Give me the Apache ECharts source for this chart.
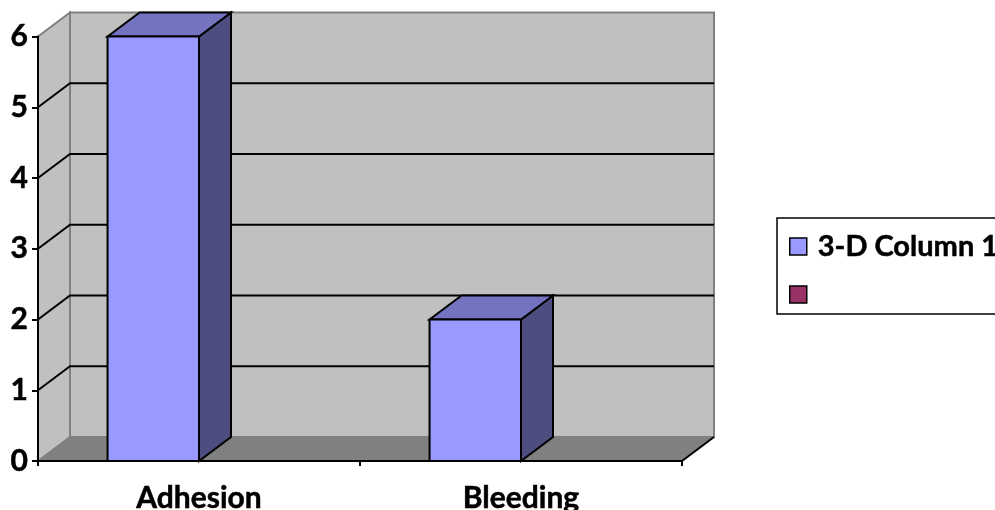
<!DOCTYPE html>
<html>
<head>
<meta charset="utf-8">
<style>html,body{margin:0;padding:0;background:#fff;overflow:hidden}#main{width:995px;height:510px}</style>
<script src="https://cdn.jsdelivr.net/npm/echarts@6/dist/echarts.min.js"></script>
</head>
<body>
<div id="main"></div>
<script>
var categories = ['Adhesion', 'Bleeding'];
var column1Name = '3-D Column 1';
var column1Values = [6, 2];
var column2Name = ' ';
var column2Values = [null, null];
var wallTicks = [0, 1, 2, 3, 4, 5, 6];

// 3-D look: how far the back plane sits from the front plane
var depthX = 32, depthY = 24;
var barRatio = 0.284;
var fontName = 'Lato, Carlito, sans-serif';

var myChart = echarts.init(document.getElementById('main'));

function wallItem(params, api) {
  var v = api.value(0);
  var box = params.coordSys;
  var y = api.coord([0, v])[1];
  var left = box.x, right = box.x + box.width;
  var children = [];
  if (v === 0) {
    var top = api.coord([0, 6])[1];
    // back wall, side wall, floor
    children.push({ type: 'polygon', shape: { points: [[left + depthX, top - depthY], [right + depthX, top - depthY], [right + depthX, y - depthY], [left + depthX, y - depthY]] },
      style: { fill: '#c0c0c0', stroke: '#808080', lineWidth: 2 } });
    children.push({ type: 'polygon', shape: { points: [[left, top], [left + depthX, top - depthY], [left + depthX, y - depthY], [left, y]] },
      style: { fill: '#c0c0c0', stroke: '#808080', lineWidth: 2 } });
    children.push({ type: 'polygon', shape: { points: [[left, y], [left + depthX, y - depthY], [right + depthX, y - depthY], [right, y]] },
      style: { fill: '#808080', stroke: '#808080', lineWidth: 1 } });
    children.push({ type: 'line', shape: { x1: right, y1: y, x2: right + depthX, y2: y - depthY }, style: { stroke: '#000', lineWidth: 2 } });
  } else if (v < 6) {
    children.push({ type: 'polyline', shape: { points: [[left, y], [left + depthX, y - depthY], [right + depthX, y - depthY]] },
      style: { fill: 'none', stroke: '#000', lineWidth: 2 } });
  }
  return { type: 'group', children: children };
}

function columnItem(params, api) {
  var val = api.value(1);
  if (val == null || isNaN(val)) return null;
  var mid = api.coord([api.value(0), 0]);
  var w = api.size([1, 0])[0] * barRatio;
  var x0 = mid[0] - w, x1 = mid[0];
  var y0 = mid[1], y1 = api.coord([api.value(0), val])[1];
  var edge = { stroke: '#000', lineWidth: 2, lineJoin: 'miter' };
  return {
    type: 'group',
    children: [
      { type: 'polygon', shape: { points: [[x1, y1], [x1 + depthX, y1 - depthY], [x1 + depthX, y0 - depthY], [x1, y0]] },
        style: Object.assign({ fill: '#4d4d80' }, edge) },
      { type: 'polygon', shape: { points: [[x0, y1], [x0 + depthX, y1 - depthY], [x1 + depthX, y1 - depthY], [x1, y1]] },
        style: Object.assign({ fill: '#7373bf' }, edge) },
      { type: 'rect', shape: { x: x0, y: y1, width: x1 - x0, height: y0 - y1 },
        style: Object.assign({ fill: '#9999ff' }, edge) }
    ]
  };
}

function pairs(values) {
  return values.map(function(v, i) { return [i, v]; });
}

var option = {
  animation: false,
  backgroundColor: '#fff',
  textStyle: { fontFamily: fontName },
  grid: { left: 38, right: 313, top: 36.5, bottom: 49, outerBoundsMode: 'none' },
  legend: {
    orient: 'vertical',
    left: 777,
    top: 218,
    padding: [12, 40, 3, 12],
    itemWidth: 17,
    itemHeight: 17,
    itemGap: 15,
    icon: 'rect',
    selectedMode: false,
    borderColor: '#000',
    borderWidth: 1.5,
    backgroundColor: '#fff',
    textStyle: { fontFamily: fontName, fontWeight: 'bold', fontSize: 29, lineHeight: 30, color: '#000', padding: [3, 0, 0, 6], textBorderColor: '#000', textBorderWidth: 0.5 },
    data: [
      { name: column1Name, itemStyle: { color: '#9999ff', borderColor: '#000', borderWidth: 1.5 } },
      { name: column2Name, itemStyle: { color: '#993366', borderColor: '#000', borderWidth: 1.5 } }
    ]
  },
  xAxis: {
    type: 'category',
    data: categories,
    z: 5,
    axisLine: { lineStyle: { color: '#000', width: 2 } },
    axisTick: { show: true, alignWithLabel: false, length: 5, lineStyle: { color: '#000', width: 2 } },
    axisLabel: { fontFamily: fontName, fontWeight: 'bold', fontSize: 30, color: '#000', margin: 22, textBorderColor: '#000', textBorderWidth: 0.5 }
  },
  yAxis: {
    type: 'value',
    min: 0,
    max: 6,
    interval: 1,
    z: 5,
    splitLine: { show: false },
    axisLine: { show: true, lineStyle: { color: '#000', width: 2 } },
    axisTick: { show: true, length: 6, lineStyle: { color: '#000', width: 2 } },
    axisLabel: { fontFamily: fontName, fontWeight: 'bold', fontSize: 30, color: '#000', margin: 10, textBorderColor: '#000', textBorderWidth: 0.5 }
  },
  series: [
    { type: 'custom', name: 'walls', silent: true, z: 1, clip: false, coordinateSystem: 'cartesian2d',
      renderItem: wallItem, encode: { y: 0 }, data: wallTicks.map(function(t) { return [t]; }) },
    { type: 'custom', name: column1Name, z: 6, clip: false, renderItem: columnItem,
      encode: { x: 0, y: 1 }, itemStyle: { color: '#9999ff' }, data: pairs(column1Values) },
    { type: 'custom', name: column2Name, z: 6, clip: false, renderItem: columnItem,
      encode: { x: 0, y: 1 }, itemStyle: { color: '#993366' }, data: pairs(column2Values) }
  ]
};

myChart.setOption(option);
</script>
</body>
</html>
